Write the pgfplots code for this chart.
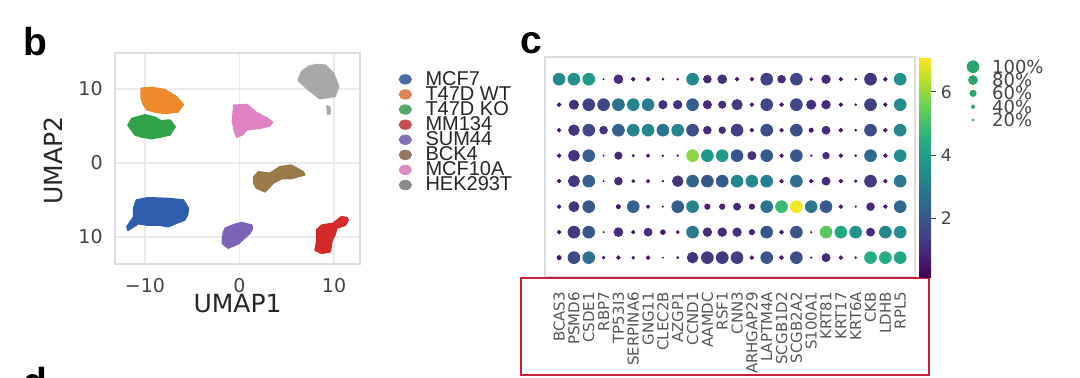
\documentclass[border=0pt]{standalone}
\usepackage{pgfplots}
\pgfplotsset{compat=1.18}
\usepackage{fontspec}
\setmainfont{DejaVu Sans}
\newfontfamily\lib{Liberation Sans}
% scatter colours
\definecolor{sMCF7}{HTML}{2F5EAE}
\definecolor{sWT}{HTML}{EE8A2C}
\definecolor{sKO}{HTML}{2FA24A}
\definecolor{sMM}{HTML}{D42A2A}
\definecolor{sSUM}{HTML}{7B63B8}
\definecolor{sBCK}{HTML}{9B7A4A}
\definecolor{sM10}{HTML}{E081C3}
\definecolor{sHEK}{HTML}{A9A9A9}
% legend colours
\definecolor{lMCF7}{HTML}{4C6AAA}
\definecolor{lWT}{HTML}{DD8452}
\definecolor{lKO}{HTML}{55A868}
\definecolor{lMM}{HTML}{C44E52}
\definecolor{lSUM}{HTML}{8172B3}
\definecolor{lBCK}{HTML}{937860}
\definecolor{lM10}{HTML}{DA8BC3}
\definecolor{lHEK}{HTML}{8C8C8C}
\definecolor{gridc}{HTML}{EBEBEB}
\definecolor{framec}{HTML}{DDDDDD}
\definecolor{tickc}{HTML}{444444}
\definecolor{labc}{HTML}{262626}
\definecolor{genec}{HTML}{555555}
\definecolor{redc}{HTML}{C8203C}
\definecolor{legdot}{HTML}{2AA56E}
\pgfplotsset{colormap={vir}{rgb255=(68,1,84) rgb255=(72,36,117) rgb255=(65,68,135) rgb255=(53,95,141) rgb255=(42,120,142) rgb255=(33,145,140) rgb255=(34,168,132) rgb255=(68,191,112) rgb255=(122,209,81) rgb255=(189,223,38) rgb255=(253,231,37)}}
\begin{document}
\begin{tikzpicture}
\useasboundingbox (0,0) rectangle (540pt,188.5pt);
% ---------------- panel b : UMAP ----------------
\begin{axis}[at={(57.5pt,56.5pt)}, anchor=south west, scale only axis,
  width=122.5pt, height=105.5pt,
  xmin=-13.17, xmax=12.75, ymin=-13.65, ymax=14.86,
  xtick={-10,0,10}, xticklabels={−10,0,10},
  ytick={-10,0,10}, yticklabels={10,0,10},
  grid=major, major grid style={color=gridc, line width=0.6pt},
  axis line style={color=framec, line width=0.8pt},
  major tick length=0pt,
  tick label style={font=\fontsize{9.5}{9.5}\selectfont, text=tickc, inner sep=0pt},
  xticklabel shift=7pt, yticklabel shift=6pt,
  xlabel={UMAP1}, ylabel={UMAP2},
  label style={font=\fontsize{12.5}{12.5}\selectfont, text=labc, inner sep=0pt},
  xlabel style={at={(axis description cs:0.5,-0.142)}, anchor=north},
  ylabel style={at={(axis description cs:-0.253,0.49)}, anchor=center},
  legend style={draw=none, fill=none, at={(1.158,0.911)}, anchor=north west,
    inner sep=0pt, outer sep=0pt, row sep=0pt,
    font=\lib\fontsize{10}{10}\selectfont, text=labc,
    nodes={inner sep=0pt, text height=6.7pt, text depth=0.85pt},
    /tikz/every odd column/.append style={column sep=6.8pt}},
  legend cell align=left,
  clip=false]
\addplot[fill=sWT, draw=sWT, line width=0.8pt, line join=round, forget plot] coordinates {(-10.4,10.1) (-9.2,10.2) (-7.9,9.9) (-6.7,9.0) (-5.95,7.9) (-6.5,6.9) (-7.9,6.7) (-9.0,6.9) (-9.8,7.2) (-10.2,8.0) (-10.4,8.8)} -- cycle;
\addplot[fill=sKO, draw=sKO, line width=0.8pt, line join=round, forget plot] coordinates {(-11.8,5.1) (-11.4,6.0) (-10.0,6.5) (-9.0,6.2) (-8.3,5.7) (-7.35,5.8) (-6.8,4.9) (-7.35,3.8) (-8.4,3.5) (-9.3,3.3) (-10.3,3.5) (-11.05,3.8)} -- cycle;
\addplot[fill=sMCF7, draw=sMCF7, line width=0.8pt, line join=round, forget plot] coordinates {(-11.2,-6.1) (-10.9,-5.0) (-9.7,-4.7) (-7.5,-4.8) (-5.95,-5.0) (-5.4,-6.1) (-5.5,-7.0) (-5.8,-7.7) (-6.8,-8.2) (-7.5,-8.6) (-8.5,-8.4) (-9.7,-8.4) (-10.7,-8.2) (-11.8,-9.1) (-11.9,-8.6) (-11.2,-7.3)} -- cycle;
\addplot[fill=sM10, draw=sM10, line width=0.8pt, line join=round, forget plot] coordinates {(-0.6,7.8) (0.8,7.9) (1.8,6.8) (3.0,6.0) (3.5,5.5) (3.2,5.0) (2.2,4.7) (0.8,4.5) (0.3,3.8) (-0.3,3.5) (-0.5,4.2) (-0.75,5.6)} -- cycle;
\addplot[fill=sHEK, draw=sHEK, line width=0.8pt, line join=round, forget plot] coordinates {(6.6,12.4) (7.4,13.1) (8.2,13.3) (9.1,13.2) (9.9,12.2) (10.2,11.3) (10.5,10.3) (10.1,9.0) (9.1,8.8) (8.5,8.7) (7.1,10.1) (6.2,11.2)} -- cycle;
\addplot[fill=sHEK, draw=sHEK, line width=0.8pt, line join=round, forget plot] coordinates {(9.25,7.7) (9.55,7.6) (9.6,6.7) (9.35,6.6)} -- cycle;
\addplot[fill=sBCK, draw=sBCK, line width=0.8pt, line join=round, forget plot] coordinates {(1.5,-1.9) (2.0,-1.2) (3.2,-1.4) (4.3,-0.5) (5.5,-0.3) (6.75,-1.2) (6.9,-1.6) (5.5,-2.1) (4.5,-2.1) (3.6,-2.7) (2.7,-3.9) (1.8,-3.4) (1.5,-2.7)} -- cycle;
\addplot[fill=sSUM, draw=sSUM, line width=0.8pt, line join=round, forget plot] coordinates {(-1.5,-8.8) (-0.5,-8.3) (0.2,-8.05) (1.3,-8.4) (1.35,-8.9) (1.1,-9.5) (0.4,-10.3) (-0.1,-10.9) (-1.2,-11.5) (-1.8,-10.9) (-1.8,-10.2) (-1.7,-9.4)} -- cycle;
\addplot[fill=sMM, draw=sMM, line width=0.8pt, line join=round, forget plot] coordinates {(8.2,-9.0) (8.7,-8.4) (9.9,-8.15) (10.8,-7.25) (11.35,-7.4) (11.5,-7.7) (11.2,-8.4) (10.3,-8.8) (10.1,-9.7) (9.8,-10.4) (9.6,-12.0) (8.7,-12.2) (8.0,-11.8) (8.2,-10.4)} -- cycle;
\addlegendimage{legend image code/.code={\fill[lMCF7] (3.1pt,0pt) ellipse [x radius=3.1pt, y radius=2.35pt];}}
\addlegendentry{MCF7}
\addlegendimage{legend image code/.code={\fill[lWT] (3.1pt,0pt) ellipse [x radius=3.1pt, y radius=2.35pt];}}
\addlegendentry{T47D WT}
\addlegendimage{legend image code/.code={\fill[lKO] (3.1pt,0pt) ellipse [x radius=3.1pt, y radius=2.35pt];}}
\addlegendentry{T47D KO}
\addlegendimage{legend image code/.code={\fill[lMM] (3.1pt,0pt) ellipse [x radius=3.1pt, y radius=2.35pt];}}
\addlegendentry{MM134}
\addlegendimage{legend image code/.code={\fill[lSUM] (3.1pt,0pt) ellipse [x radius=3.1pt, y radius=2.35pt];}}
\addlegendentry{SUM44}
\addlegendimage{legend image code/.code={\fill[lBCK] (3.1pt,0pt) ellipse [x radius=3.1pt, y radius=2.35pt];}}
\addlegendentry{BCK4}
\addlegendimage{legend image code/.code={\fill[lM10] (3.1pt,0pt) ellipse [x radius=3.1pt, y radius=2.35pt];}}
\addlegendentry{MCF10A}
\addlegendimage{legend image code/.code={\fill[lHEK] (3.1pt,0pt) ellipse [x radius=3.1pt, y radius=2.35pt];}}
\addlegendentry{HEK293T}
\end{axis}
% ---------------- panel c : dot plot ----------------
\begin{axis}[at={(272.5pt,50pt)}, anchor=south west, scale only axis,
  width=185pt, height=110pt,
  xmin=0.05, xmax=25.0, ymin=0.24, ymax=8.87,
  xtick={1,...,24},
  xticklabels={BCAS3,PSMD6,CSDE1,RBP7,TP53I3,SERPINA6,GNG11,CLEC2B,AZGP1,CCND1,AAMDC,RSF1,CNN3,ARHGAP29,LAPTM4A,SCGB1D2,SCGB2A2,S100A1,KRT81,KRT17,KRT6A,CKB,LDHB,RPL5},
  ytick=\empty,
  major tick length=0pt,
  axis line style={color=framec, line width=0.8pt},
  xticklabel style={rotate=90, anchor=east, inner sep=0pt, font=\fontsize{7.5}{7.5}\selectfont, text=genec},
  xticklabel shift=7.3pt,
  colormap name=vir, point meta min=0.15, point meta max=7.1,
  colorbar right,
  colorbar style={at={(parent axis.north east)}, anchor=north west, xshift=-6.5pt,
    width=6pt, ytick={2,4,6}, yticklabels={2,4,6}, ytick pos=right, yticklabel pos=right,
    tick align=outside, major tick length=2.5pt,
    tick style={color=tickc, line width=0.6pt},
    axis line style={draw=none},
    yticklabel style={font=\fontsize{8.6}{8.6}\selectfont, text=tickc, inner sep=0pt},
    yticklabel shift=2.2pt},
  clip=false]
\addplot[scatter, only marks, mark=*, scatter src=explicit,
  scatter/use mapped color={draw=mapped color, fill=mapped color},
  visualization depends on={2.95*pow(\thisrow{s}/100,1.25) \as \msize},
  scatter/@pre marker code/.append style={/tikz/mark size=\msize}]
  table[x=x, y=y, meta=c]{
x y c s
1 8 3.4 100
2 8 3.7 100
3 8 3.9 100
4 8 0.5 13
5 8 1.0 79
6 8 0.6 40
7 8 0.6 40
8 8 0.5 21
9 8 0.5 21
10 8 3.4 100
11 8 1.0 71
12 8 1.1 79
13 8 0.6 38
14 8 0.6 38
15 8 1.5 100
16 8 1.0 71
17 8 1.6 100
18 8 0.6 30
19 8 1.0 77
20 8 0.6 38
21 8 0.5 21
22 8 1.2 100
23 8 0.6 40
24 8 3.6 100
1 7 0.6 40
2 7 1.1 82
3 7 1.5 100
4 7 1.6 100
5 7 2.7 100
6 7 3.3 100
7 7 3.1 100
8 7 1.1 75
9 7 1.1 77
10 7 2.2 100
11 7 1.0 75
12 7 1.0 68
13 7 1.3 90
14 7 0.6 38
15 7 1.6 100
16 7 0.6 40
17 7 1.6 100
18 7 1.1 82
19 7 1.0 77
20 7 0.6 38
21 7 0.5 21
22 7 1.5 100
23 7 0.6 38
24 7 3.5 100
1 6 0.6 38
2 6 1.2 92
3 6 1.6 100
4 6 1.1 71
5 6 2.3 100
6 6 3.3 100
7 6 3.4 100
8 6 2.8 100
9 6 3.3 100
10 6 1.8 100
11 6 1.0 71
12 6 1.0 62
13 6 1.4 100
14 6 0.6 38
15 6 1.8 100
16 6 0.6 38
17 6 1.8 100
18 6 0.6 43
19 6 1.0 73
20 6 0.6 40
21 6 0.5 21
22 6 1.8 100
23 6 0.6 40
24 6 3.4 100
1 5 0.6 38
2 5 1.2 94
3 5 2.3 100
4 5 0.5 13
5 5 1.0 68
6 5 0.6 25
7 5 0.6 36
8 5 0.5 18
9 5 0.5 18
10 5 5.9 100
11 5 3.8 100
12 5 3.9 100
13 5 2.0 100
14 5 1.1 75
15 5 2.1 100
16 5 0.6 38
17 5 2.0 100
18 5 0.5 18
19 5 1.0 62
20 5 0.6 38
21 5 0.5 21
22 5 2.5 100
23 5 0.6 38
24 5 3.5 100
1 4 0.6 38
2 4 1.3 96
3 4 2.3 100
4 4 0.5 13
5 4 1.0 71
6 4 0.6 33
7 4 0.6 36
8 4 0.5 18
9 4 1.2 92
10 4 2.4 100
11 4 2.0 100
12 4 2.1 100
13 4 3.3 100
14 4 3.4 100
15 4 3.1 100
16 4 0.6 38
17 4 2.6 100
18 4 0.6 38
19 4 1.0 73
20 4 0.6 40
21 4 0.5 28
22 4 1.3 100
23 4 0.6 38
24 4 2.9 100
1 3 0.6 38
2 3 1.2 88
3 3 2.0 100
5 3 0.6 43
6 3 2.3 100
7 3 0.6 36
8 3 0.5 16
9 3 2.2 100
10 3 3.3 100
11 3 0.8 53
12 3 0.8 53
13 3 1.0 66
14 3 0.8 53
15 3 2.8 100
16 3 4.8 100
17 3 7.0 100
18 3 2.9 100
19 3 2.1 100
20 3 0.6 38
21 3 0.5 18
22 3 1.0 71
23 3 0.6 38
24 3 2.5 100
1 2 0.6 38
2 2 1.3 100
3 2 2.0 100
4 2 0.5 16
5 2 1.0 79
6 2 0.6 38
7 2 1.0 73
8 2 0.7 48
9 2 0.6 33
10 2 2.9 100
11 2 1.0 77
12 2 1.0 77
13 2 1.1 77
14 2 0.8 53
15 2 2.0 100
16 2 0.6 40
17 2 1.9 100
18 2 0.5 16
19 2 5.3 100
20 2 4.3 100
21 2 3.7 100
22 2 1.0 73
23 2 3.3 100
24 2 3.5 100
1 1 0.6 43
2 1 1.7 100
3 1 2.7 100
4 1 0.6 30
5 1 0.6 40
6 1 0.6 30
7 1 0.6 40
8 1 0.5 13
9 1 0.5 21
10 1 1.2 92
11 1 1.3 100
12 1 1.3 100
13 1 1.4 100
14 1 0.6 40
15 1 1.9 100
16 1 0.6 40
17 1 1.8 100
18 1 0.5 18
19 1 1.0 73
20 1 0.6 40
21 1 0.5 21
22 1 4.4 100
23 1 4.4 100
24 1 4.3 100
};
\draw[redc, line width=1pt] (rel axis cs:-0.0649,-0.0045) rectangle (rel axis cs:1.0378,-0.445);
\end{axis}
% ---------------- size legend ----------------
\begin{axis}[at={(486.5pt,128.5pt)}, anchor=south west, scale only axis,
  width=10pt, height=26.65pt, xmin=0, xmax=1, ymin=1, ymax=5,
  hide axis, clip=false,
  point meta min=0, point meta max=100,
  /pgf/number format/assume math mode=true]
\addplot[scatter, only marks, mark=*, scatter src=explicit,
  scatter/use mapped color={draw=legdot, fill=legdot},
  visualization depends on={2.95*pow(\thisrow{s}/100,1.25) \as \msize},
  scatter/@pre marker code/.append style={/tikz/mark size=\msize}]
  table[x=x, y=y, meta=s]{
x y s
0 5 100
0 4 80
0 3 60
0 2 40
0 1 20
};
\addplot[only marks, mark=none, point meta=explicit,
  nodes near coords={\pgfmathprintnumber[int detect]{\pgfplotspointmeta}\%},
  nodes near coords style={anchor=west, xshift=9.35pt, inner sep=0pt, font=\fontsize{9}{9}\selectfont, text=tickc}]
  table[x=x, y=y, meta=s]{
x y s
0 5 100
0 4 80
0 3 60
0 2 40
0 1 20
};
\end{axis}
% ---------------- panel letters ----------------
\node[anchor=base west, inner sep=0pt, font=\lib\bfseries\fontsize{19.5}{19.5}\selectfont] at (11.5pt,161pt) {b};
\node[anchor=base west, inner sep=0pt, font=\lib\bfseries\fontsize{19.5}{19.5}\selectfont] at (260pt,162pt) {c};
\node[anchor=base west, inner sep=0pt, font=\lib\bfseries\fontsize{19.5}{19.5}\selectfont] at (11.5pt,-9pt) {d};
\end{tikzpicture}
\end{document}
